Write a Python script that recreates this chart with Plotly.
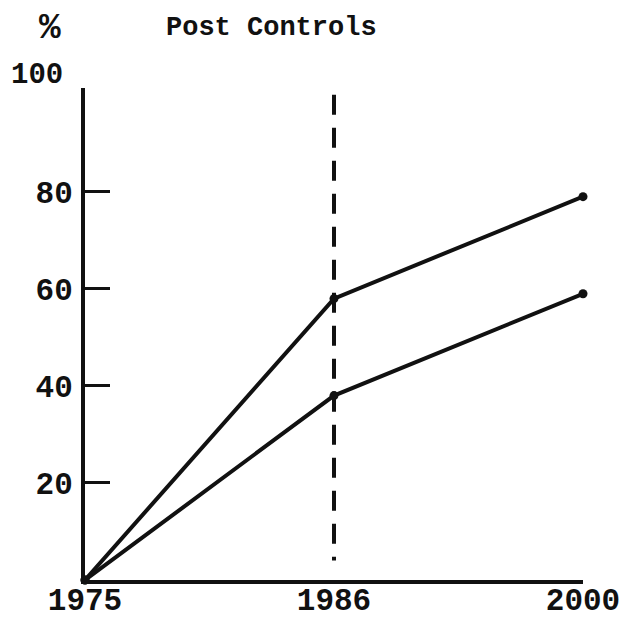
import plotly.graph_objects as go

years = ["1975", "1986", "2000"]
upper = [0, 58, 79]
lower = [0, 38, 59]
y_ticks = [20, 40, 60, 80]
y_tick_labels = ["20", "40", "60", "80"]
divider_year = "1986"
divider_span = [100, 4]
title_text = "Post Controls"
unit_text = "%"

INK = "#111111"
FONT = "Liberation Mono"

fig = go.Figure()
for series in (upper, lower):
    fig.add_trace(go.Scatter(
        x=years, y=series, mode="lines+markers",
        line=dict(color=INK, width=4),
        marker=dict(color=INK, size=9),
        cliponaxis=False, showlegend=False))
fig.add_trace(go.Scatter(
    x=[divider_year, divider_year], y=divider_span, mode="lines",
    line=dict(color=INK, width=4, dash="20px,13px"), hoverinfo="skip",
    showlegend=False))

fig.update_layout(
    width=631, height=619,
    margin=dict(l=77, r=56, t=80, b=47, autoexpand=False),
    paper_bgcolor="white", plot_bgcolor="white",
    font=dict(family=FONT, color=INK, weight="bold"),
    xaxis=dict(type="category", categoryorder="array", categoryarray=years,
               range=[0, 2], showgrid=False, zeroline=False, automargin=False,
               showline=True, linecolor=INK, linewidth=4, ticks="",
               tickfont=dict(size=31, family=FONT, weight="bold"),
               ticklabelstandoff=-11),
    yaxis=dict(range=[0, 101.4], showgrid=False, zeroline=False, automargin=False,
               showline=True, linecolor=INK, linewidth=4,
               tickvals=y_ticks, ticktext=y_tick_labels,
               ticks="inside", ticklen=25, tickwidth=3, tickcolor=INK,
               tickfont=dict(size=31, family=FONT, weight="bold"),
               ticklabelstandoff=2),
    annotations=[
        dict(text=title_text, xref="paper", yref="paper", x=0.375, y=1,
             xanchor="center", yanchor="middle",
             yshift=60, showarrow=False, font=dict(size=27, family=FONT, weight="bold")),
        dict(text=unit_text, xref="paper", yref="paper", x=-0.07, y=1,
             xanchor="center", yanchor="middle",
             yshift=60, showarrow=False, font=dict(size=36, family=FONT, weight="bold")),
        dict(text="100", xref="paper", yref="y", x=-0.097, y=100,
             xanchor="center", yanchor="middle",
             yshift=19, showarrow=False, font=dict(size=29, family=FONT, weight="bold")),
    ],
)

fig.write_html("out.html")
